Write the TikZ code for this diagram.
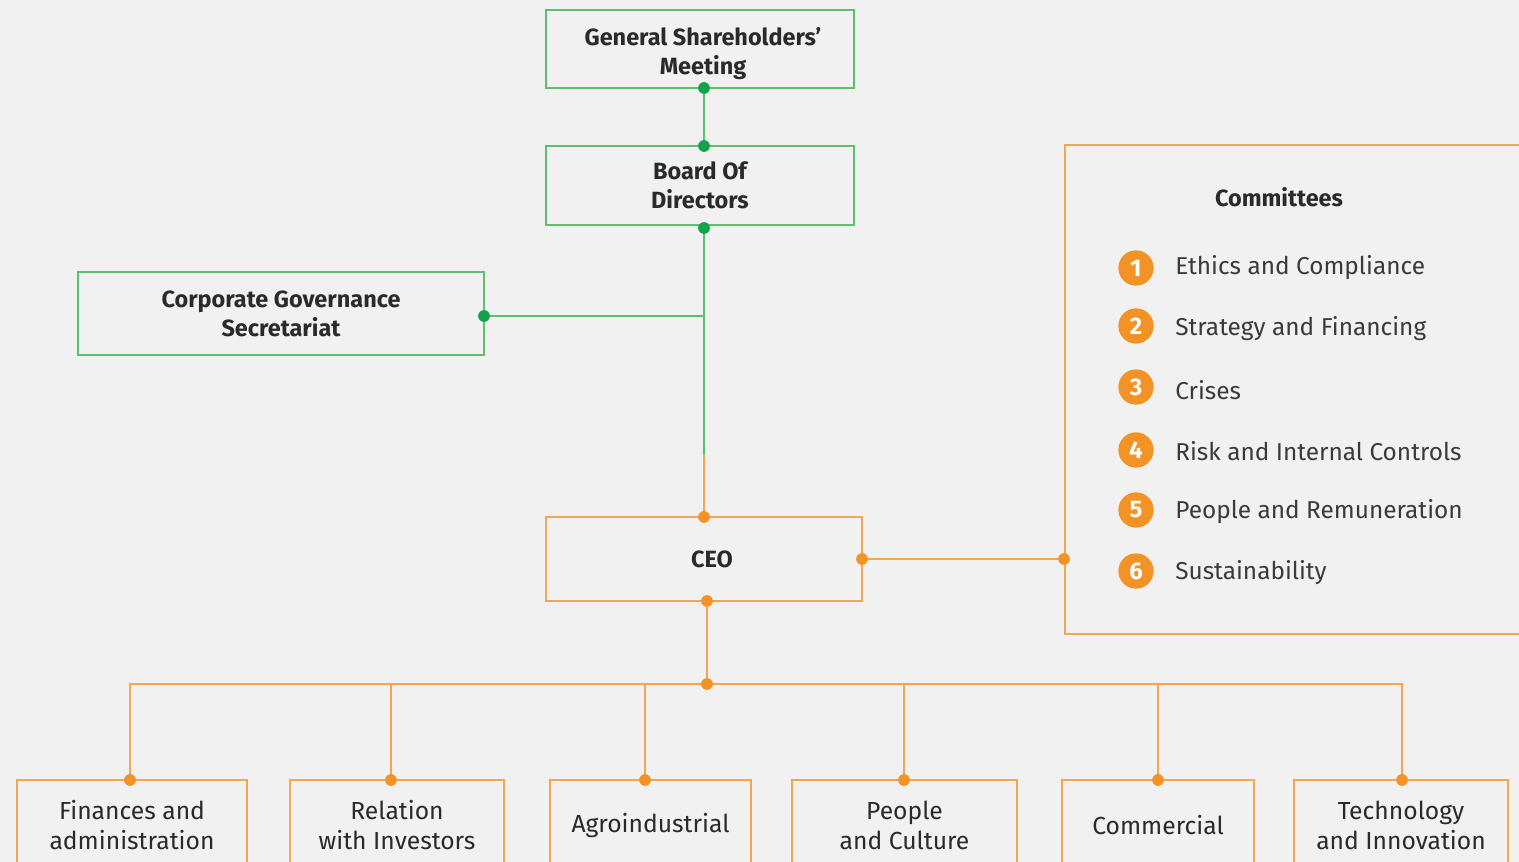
\documentclass[tikz,border=0pt]{standalone}
\usepackage{fontspec}
\setmainfont{Fira Sans}
\usetikzlibrary{calc}
\definecolor{bgc}{HTML}{F2F1F2}
\definecolor{gline}{HTML}{5CC16A}
\definecolor{gdot}{HTML}{12A24A}
\definecolor{oline}{HTML}{F5A552}
\definecolor{odot}{HTML}{F39325}
\definecolor{txt}{HTML}{2A2A2A}
\definecolor{ctxt}{HTML}{3A3A3A}
\begin{document}
\begin{tikzpicture}[x=0.75pt,y=-0.75pt,
  gbox/.style={draw=gline,line width=0.9pt,align=center,font=\fontsize{17.6pt}{21.8pt}\selectfont\bfseries,text=txt,inner sep=0pt},
  gtext/.style={align=center,font=\fontsize{17.6pt}{21.8pt}\selectfont\bfseries,text=txt,inner sep=0pt},
  obox/.style={draw=oline,line width=0.9pt,align=center,font=\fontsize{18.5pt}{22.5pt}\selectfont,text=txt,inner sep=0pt},
  gcon/.style={draw=gline,line width=0.9pt},
  ocon/.style={draw=oline,line width=0.9pt},
  gdt/.style={fill=gdot,draw=none},
  odt/.style={fill=odot,draw=none},
  num/.style={circle,fill=odot,text=white,minimum size=26.5pt,inner sep=0pt,font=\fontsize{18pt}{18pt}\selectfont\bfseries},
  item/.style={anchor=west,text=ctxt,font=\fontsize{18.3pt}{21pt}\selectfont,inner sep=0pt}
]
\fill[bgc] (0,0) rectangle (1519,862);
\useasboundingbox (0,0) rectangle (1519,862);

% top green boxes
\node[gbox,minimum width=231pt,minimum height=58.5pt] (gsm) at (700,49) {};
\node[gtext] (gsmt) at (703,54) {General Shareholders’\\Meeting};
\node[gbox,minimum width=231pt,minimum height=59.25pt] (bod) at (700,185.5) {Board Of\\Directors};
\node[gbox,minimum width=304.5pt,minimum height=62.25pt] (cgs) at (281,313.5) {Corporate Governance\\Secretariat};

% CEO
\node[obox,font=\fontsize{17.6pt}{20pt}\selectfont\bfseries,minimum width=237pt,minimum height=63pt] (ceo) at (704,559) {\hspace*{12pt}CEO};

% committees
\node[draw=oline,line width=0.9pt,minimum width=348.75pt,minimum height=366.75pt,inner sep=0pt] (com) at (1297.5,389.5) {};
\node[text=txt,font=\fontsize{17.6pt}{20pt}\selectfont\bfseries] (comt) at (1279,197) {Committees};
\node[num] (n1) at (1136,268) {1};
\node[num] (n2) at (1136,326) {2};
\node[num] (n3) at (1136,387) {3};
\node[num] (n4) at (1136,450) {4};
\node[num] (n5) at (1136,510) {5};
\node[num] (n6) at (1136,571) {6};
\node[item] (i1) at (1175,268) {Ethics and Compliance};
\node[item] (i2) at (1175,329) {Strategy and Financing};
\node[item] (i3) at (1175,390) {Crises};
\node[item] (i4) at (1175,451) {Risk and Internal Controls};
\node[item] (i5) at (1175,512) {People and Remuneration};
\node[item] (i6) at (1175,573) {Sustainability};

% bottom boxes
\node[obox,minimum width=172.5pt,minimum height=67.5pt] (b1) at (132,825) {Finances and\\administration};
\node[obox,minimum width=160.5pt,minimum height=67.5pt] (b2) at (397,825) {Relation\\with Investors};
\node[obox,minimum width=150.75pt,minimum height=67.5pt] (b3) at (650.5,825) {Agroindustrial};
\node[obox,minimum width=168.75pt,minimum height=67.5pt] (b4) at (904.5,825) {People\\and Culture};
\node[obox,minimum width=144pt,minimum height=67.5pt] (b5) at (1158,825) {Commercial};
\node[obox,minimum width=160.5pt,minimum height=67.5pt] (b6) at (1401,825) {Technology\\and Innovation};

% coordinates
\coordinate (gsmb) at (704,88);
\coordinate (bodt) at (704,146);
\coordinate (bodb) at (704,228);
\coordinate (cgsr) at (484,316);
\coordinate (jn) at (704,316);
\coordinate (gend) at (704,455);
\coordinate (ceot) at (704,517);
\coordinate (ceor) at (862,559);
\coordinate (coml) at (1064,559);
\coordinate (ceob) at (707,601);
\coordinate (bus) at (707,684);
\coordinate (t1) at (130,780);
\coordinate (t2) at (391,780);
\coordinate (t3) at (645,780);
\coordinate (t4) at (904,780);
\coordinate (t5) at (1158,780);
\coordinate (t6) at (1402,780);

% green connectors
\draw[gcon] (gsmb) -- (bodt);
\draw[gcon] (bodb) -- (gend);
\draw[gcon] (cgsr) -- (jn);
% orange connectors
\draw[ocon] (gend) -- (ceot);
\draw[ocon] (ceor) -- (coml);
\draw[ocon] (ceob) -- (bus);
\draw[ocon] (t1) |- (bus) -| (t6);
\draw[ocon] (t2) -- (t2 |- bus);
\draw[ocon] (t3) -- (t3 |- bus);
\draw[ocon] (t4) -- (t4 |- bus);
\draw[ocon] (t5) -- (t5 |- bus);

% dots
\foreach \p in {gsmb,bodt,bodb,cgsr} \fill[gdt] (\p) circle (4.4pt);
\foreach \p in {ceot,ceor,coml,ceob,bus,t1,t2,t3,t4,t5,t6} \fill[odt] (\p) circle (4.4pt);
\end{tikzpicture}
\end{document}
